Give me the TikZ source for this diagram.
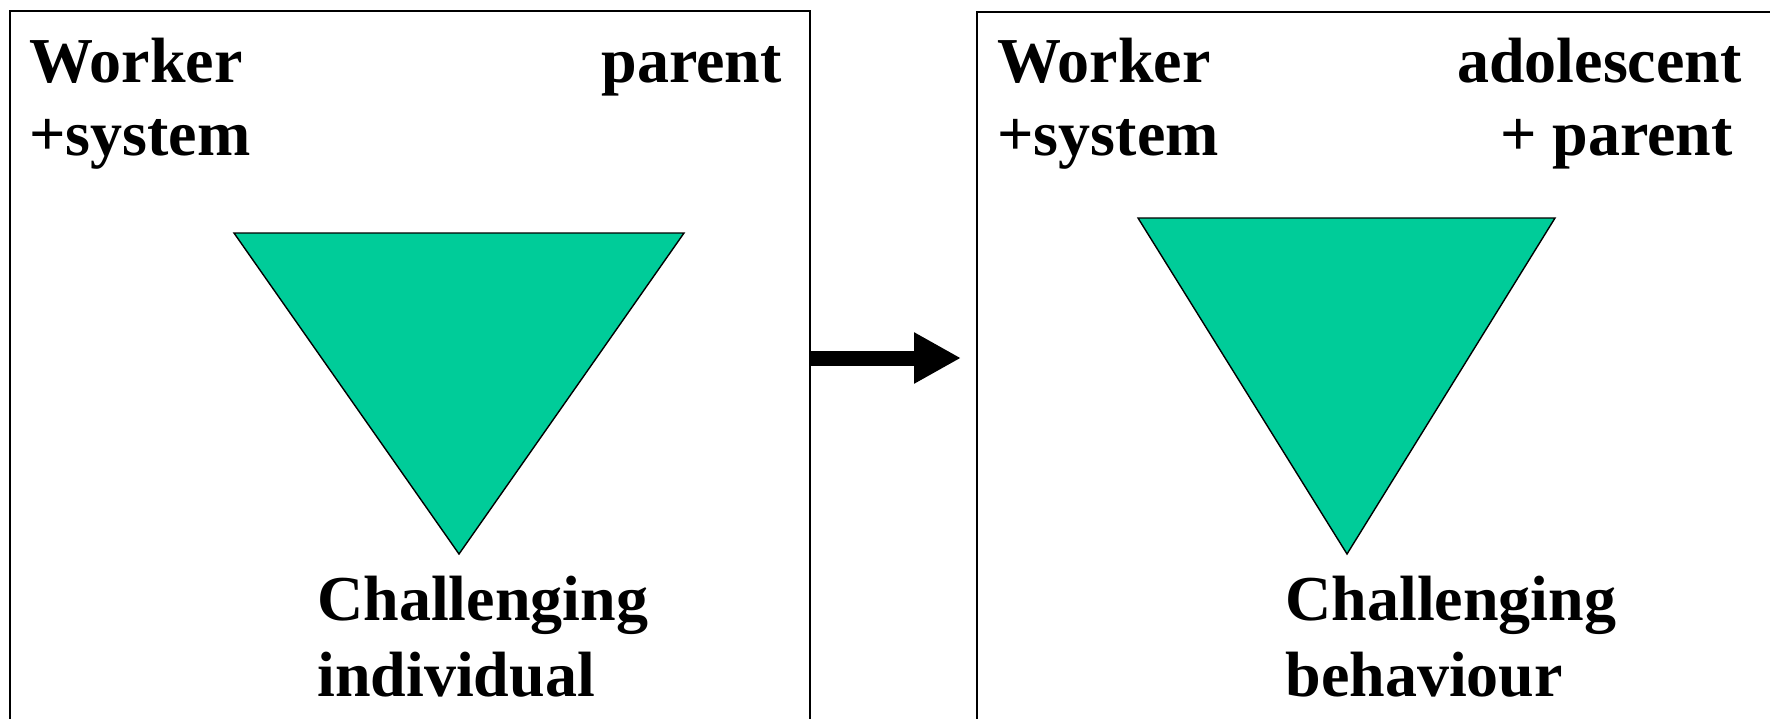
\documentclass[tikz,border=0pt]{standalone}
\usepackage{fontspec}
\setmainfont{Liberation Serif}
\usepackage{tikz}
\usetikzlibrary{arrows.meta,positioning}
\definecolor{triGreen}{RGB}{0,204,153}
\tikzstyle{panel} = [draw, line width=1pt, rectangle, inner sep=0pt]
\tikzstyle{lbl} = [inner sep=0pt, font=\fontsize{32}{36}\selectfont\bfseries]
\tikzstyle{tri} = [fill=triGreen, draw=black, line width=0.7pt, line join=miter]
\tikzstyle{arrow} = [draw, line width=7.5pt, -{Triangle[length=23.5pt,width=24pt]}]

\begin{document}
\begin{tikzpicture}[x=0.5pt,y=-0.5pt]
      \useasboundingbox (0,0) rectangle (1770,718);
      % the two panels, open at the bottom of the page
      \node[panel, anchor=north west, minimum width=400pt, minimum height=380pt] (before) at (9,10) {};
      \node[panel, anchor=north west, minimum width=450pt, minimum height=380pt] (after) at (976,11) {};
      % triangles
      \draw[tri] (234,233) -- (684,233) -- (459,554) -- cycle;
      \draw[tri] (1138,218) -- (1555,218) -- (1347,554) -- cycle;
      % left panel labels
      \node[lbl, anchor=base west] (workerA) at (29,82) {Worker};
      \node[lbl, anchor=base west] (systemA) at (29,155) {+system};
      \node[lbl, anchor=base east] (parentA) at (782,82) {parent};
      \node[lbl, anchor=base west] (challA) at (317,620) {Challenging};
      \node[lbl, anchor=base west] (indiv) at (317,696) {individual};
      % right panel labels
      \node[lbl, anchor=base west] (workerB) at (997,82) {Worker};
      \node[lbl, anchor=base west] (systemB) at (997,155) {+system};
      \node[lbl, anchor=base east] (adol) at (1742,82) {adolescent};
      \node[lbl, anchor=base east] (parentB) at (1733,155) {+ parent};
      \node[lbl, anchor=base west] (challB) at (1285,620) {Challenging};
      \node[lbl, anchor=base west] (behav) at (1285,696) {behaviour};
      % arrow between the panels
      \coordinate (tail) at (809,358);
      \coordinate (tip) at (961,358);
      \draw[arrow] (tail) -- (tip);
\end{tikzpicture}
\end{document}
